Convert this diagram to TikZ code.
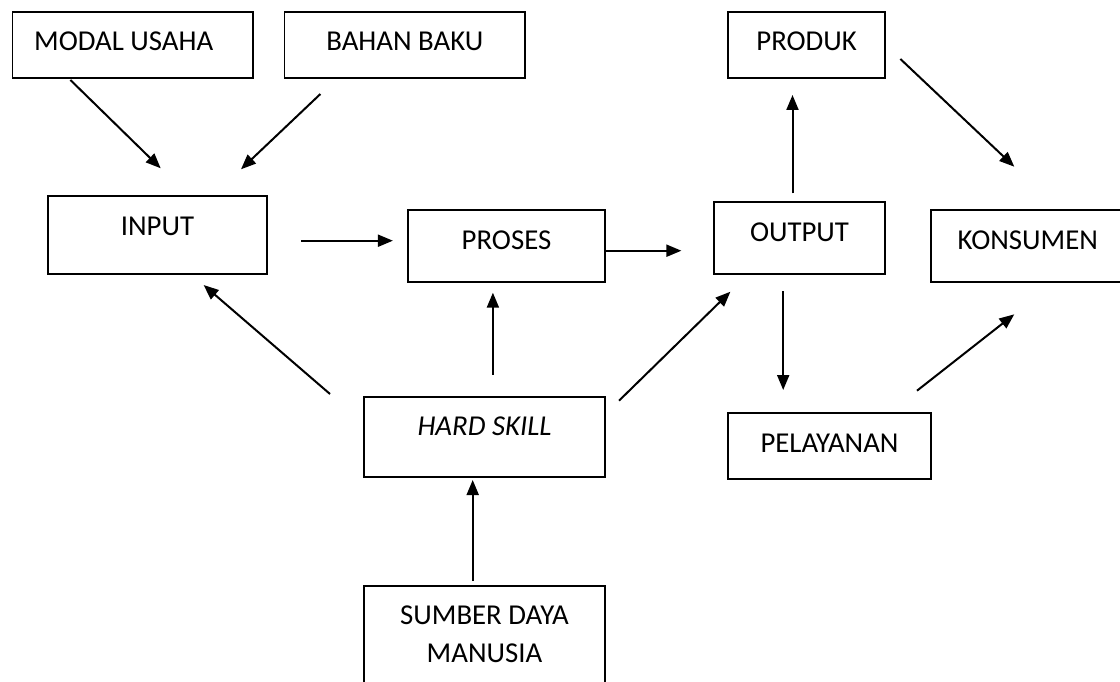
\documentclass[tikz,border=0pt]{standalone}
\usepackage{fontspec}
\setmainfont{Carlito}
\usetikzlibrary{arrows.meta,calc}
\newcommand{\bt}[3]{\smash{\raisebox{#2}{\makebox[0pt]{\hspace*{#1}#3}}}}
\begin{document}
\begin{tikzpicture}[x=1pt,y=-1pt,
  box/.style={draw, line width=1.5pt, rectangle, inner sep=0pt, outer sep=0pt,
    font=\fontsize{28.8}{38}\selectfont},
  arr/.style={line width=2pt, -{Triangle[length=15pt,width=12pt]}}]
\useasboundingbox (0,0) rectangle (1120,682);
\fill[white] (0,0) rectangle (1120,682);
\clip (0,0) rectangle (1120,682);
% boxes
\node[box, minimum width=240.5pt, minimum height=66pt] (modal) at (132.7,45) {\bt{-18pt}{-6pt}{MODAL USAHA}};
\node[box, minimum width=240.4pt, minimum height=66pt] (bahan) at (404.8,45) {\bt{0pt}{-6pt}{BAHAN BAKU}};
\node[box, minimum width=156.8pt, minimum height=66pt] (produk) at (806.6,45) {\bt{0pt}{-6pt}{PRODUK}};
\node[box, minimum width=218.8pt, minimum height=78pt] (input) at (157.4,235) {\bt{0pt}{0pt}{INPUT}};
\node[box, minimum width=197pt, minimum height=72pt] (proses) at (506.5,246) {\bt{0pt}{-3.3pt}{PROSES}};
\node[box, minimum width=171pt, minimum height=72pt] (output) at (799.5,238) {\bt{0pt}{-3.3pt}{OUTPUT}};
\node[box, minimum width=194pt, minimum height=72pt] (konsumen) at (1027.8,246) {\bt{0pt}{-3.3pt}{KONSUMEN}};
\node[box, minimum width=241pt, minimum height=80pt] (hard) at (484.5,437) {\bt{0pt}{1.7pt}{\itshape HARD SKILL}};
\node[box, minimum width=203pt, minimum height=66pt] (pelayanan) at (829.5,446) {\bt{0pt}{-6pt}{PELAYANAN}};
\node[box, minimum width=241pt, minimum height=120pt] (sumber) at (484.5,646)
  {\bt{0pt}{-16.2pt}{\begin{tabular}[b]{@{}c@{}}SUMBER DAYA\\MANUSIA\end{tabular}}};
% connectors
\draw[arr] ($(modal.south)+(-62.3,2)$) -- ($(input.north)+(3.3,-27.7)$);
\draw[arr] ($(bahan.south)+(-84.4,16)$) -- ($(input.north)+(83.6,-26.7)$);
\draw[arr] ($(input.east)+(34.2,5.7)$) -- ($(proses.west)+(-15.1,-5.3)$);
\draw[arr] ($(proses.east)+(0,4.7)$) -- ($(output.west)+(-32.6,12.7)$);
\draw[arr] ($(output.north)+(-7,-8.7)$) -- ($(produk.south)+(-14.1,17)$);
\draw[arr] ($(produk.east)+(15.4,14)$) -- ($(konsumen.north)+(-13.5,-43.3)$);
\draw[arr] ($(hard.north west)+(-34,-3)$) -- ($(input.south)+(46.2,11)$);
\draw[arr] ($(hard.north)+(8.4,-22.3)$) -- ($(proses.south)+(-13.6,10.7)$);
\draw[arr] ($(hard.north east)+(14,3.7)$) -- ($(output.south)+(-69.1,17.7)$);
\draw[arr] ($(output.south)+(-16.3,17)$) -- ($(pelayanan.north)+(-46.3,-23)$);
\draw[arr] ($(pelayanan.north east)+(-14,-22.3)$) -- ($(konsumen.south)+(-13.5,32.3)$);
\draw[arr] ($(sumber.north)+(-11.8,-5)$) -- ($(hard.south)+(-11.8,3)$);
\end{tikzpicture}
\end{document}
